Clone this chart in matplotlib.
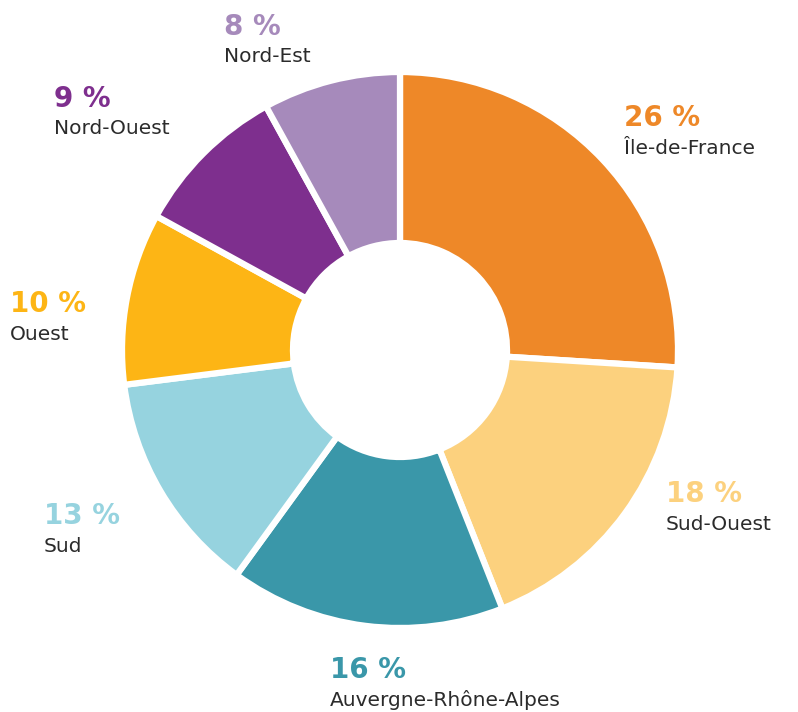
import matplotlib.pyplot as plt

# share of regions, clockwise from the top
regions = ['Île-de-France', 'Sud-Ouest', 'Auvergne-Rhône-Alpes', 'Sud',
           'Ouest', 'Nord-Ouest', 'Nord-Est']
shares = [26, 18, 16, 13, 10, 9, 8]
colors = ['#EE8828', '#FCD17E', '#3A97A9', '#96D3DF',
          '#FDB515', '#7E2F8E', '#A68ABB']

# label anchors in pixels from the top-left corner (left edge, percent line)
label_pos = [(624, 118), (666, 494), (330, 670), (44, 516),
             (10, 304), (54, 99), (224, 27)]

W, H = 798, 712
cx, cy, R = 400, 350, 278

fig = plt.figure(figsize=(W / 100, H / 100), dpi=100)
ax = fig.add_axes([0, 0, 1, 1])

ax.pie(shares, colors=colors, radius=R, startangle=90, counterclock=False,
       wedgeprops=dict(width=R - 107, edgecolor='white', linewidth=4.5))

# pie resets the limits, so set them afterwards
ax.set_xlim(-cx, W - cx)
ax.set_ylim(cy - H, cy)
ax.set_aspect('equal')
ax.axis('off')

for name, val, col, (px, py) in zip(regions, shares, colors, label_pos):
    x = px - cx
    y = cy - py
    ax.text(x, y, f'{val} %', color=col, fontsize=20, fontweight='bold',
            ha='left', va='center')
    ax.text(x, y - 30, name, color='#2b2b2b', fontsize=14.5,
            ha='left', va='center')

fig.savefig('out.png', dpi=100)
